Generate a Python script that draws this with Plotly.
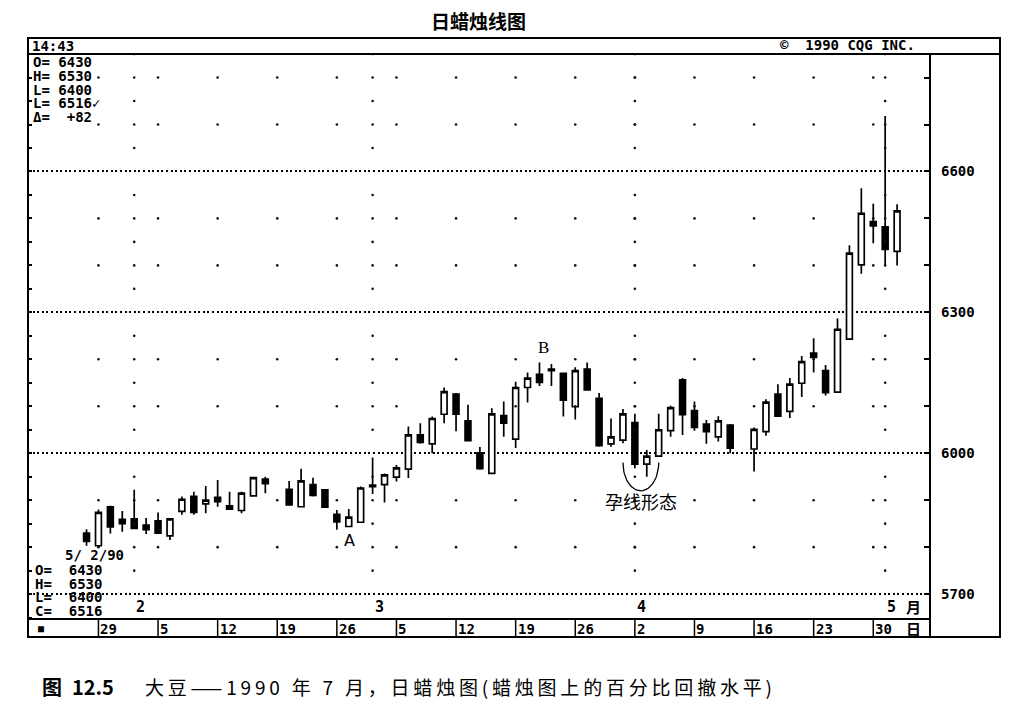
import numpy as np
import plotly.graph_objects as go

# Soybeans July 1990 daily candles
dates = ["1990-01-26",
         "1990-01-29", "1990-01-30", "1990-01-31", "1990-02-01", "1990-02-02",
         "1990-02-05", "1990-02-06", "1990-02-07", "1990-02-08", "1990-02-09",
         "1990-02-12", "1990-02-13", "1990-02-14", "1990-02-15", "1990-02-16",
         "1990-02-20", "1990-02-21", "1990-02-22", "1990-02-23",
         "1990-02-26", "1990-02-27", "1990-02-28", "1990-03-01", "1990-03-02",
         "1990-03-05", "1990-03-06", "1990-03-07", "1990-03-08", "1990-03-09",
         "1990-03-12", "1990-03-13", "1990-03-14", "1990-03-15", "1990-03-16",
         "1990-03-19", "1990-03-20", "1990-03-21", "1990-03-22", "1990-03-23",
         "1990-03-26", "1990-03-27", "1990-03-28", "1990-03-29", "1990-03-30",
         "1990-04-02", "1990-04-03", "1990-04-04", "1990-04-05", "1990-04-06",
         "1990-04-09", "1990-04-10", "1990-04-11", "1990-04-12",
         "1990-04-16", "1990-04-17", "1990-04-18", "1990-04-19", "1990-04-20",
         "1990-04-23", "1990-04-24", "1990-04-25", "1990-04-26", "1990-04-27",
         "1990-04-30", "1990-05-01", "1990-05-02"]
opens = [5830,
         5803, 5886, 5859, 5860, 5847,
         5856, 5824, 5876, 5908, 5892,
         5906, 5888, 5878, 5909, 5945,
         5923, 5886, 5933, 5922,
         5870, 5844, 5853, 5932, 5933,
         5949, 5966, 6039, 6020, 6083,
         6126, 6069, 6001, 5957, 6080,
         6030, 6140, 6168, 6179, 6170,
         6099, 6179, 6117, 6020, 6028,
         6065, 5977, 5994, 6048, 6156,
         6091, 6062, 6035, 6060,
         6009, 6046, 6126, 6089, 6149,
         6213, 6176, 6130, 6243, 6401,
         6493, 6482, 6430]
highs = [5838,
         5880, 5888, 5877, 5922, 5862,
         5874, 5862, 5908, 5918, 5930,
         5943, 5918, 5918, 5950, 5950,
         5941, 5967, 5948, 5924,
         5879, 5881, 5929, 5991, 5957,
         5975, 6057, 6064, 6078, 6140,
         6128, 6103, 6013, 6096, 6110,
         6152, 6172, 6193, 6190, 6171,
         6183, 6193, 6128, 6074, 6094,
         6084, 6007, 6084, 6101, 6160,
         6110, 6071, 6079, 6062,
         6055, 6115, 6147, 6160, 6207,
         6245, 6188, 6287, 6443, 6564,
         6531, 6718, 6530]
lows = [5803,
        5798, 5829, 5833, 5838, 5828,
        5828, 5815, 5869, 5869, 5872,
        5886, 5879, 5872, 5908, 5915,
        5888, 5886, 5908, 5884,
        5837, 5844, 5853, 5913, 5895,
        5940, 5947, 6020, 6000, 6064,
        6047, 6025, 5965, 5957, 6035,
        6011, 6108, 6143, 6143, 6078,
        6072, 6133, 6014, 6014, 6021,
        5968, 5950, 5994, 6035, 6039,
        6048, 6020, 6025, 6000,
        5961, 6037, 6079, 6075, 6120,
        6172, 6123, 6130, 6243, 6382,
        6447, 6401, 6400]
closes = [5812,
          5874, 5843, 5850, 5840, 5837,
          5830, 5860, 5902, 5874, 5900,
          5897, 5881, 5915, 5948, 5935,
          5890, 5941, 5910, 5885,
          5854, 5864, 5926, 5929, 5954,
          5969, 6039, 6023, 6074, 6131,
          6083, 6027, 5967, 6084, 6064,
          6140, 6160, 6151, 6176, 6113,
          6176, 6135, 6016, 6035, 6084,
          5977, 5994, 6050, 6097, 6082,
          6055, 6046, 6069, 6011,
          6051, 6109, 6079, 6147, 6195,
          6204, 6129, 6264, 6426, 6511,
          6484, 6434, 6516]

# bottom date strip and month markers
week_starts = ["1990-01-29", "1990-02-05", "1990-02-12", "1990-02-19", "1990-02-26",
               "1990-03-05", "1990-03-12", "1990-03-19", "1990-03-26", "1990-04-02",
               "1990-04-09", "1990-04-16", "1990-04-23", "1990-04-30"]
week_labels = ["29", "5", "12", "19", "26", "5", "12", "19", "26", "2", "9", "16", "23", "30"]
month_starts = ["1990-02-01", "1990-03-01", "1990-04-02", "1990-05-01"]
month_labels = ["2", "3", "4", "5"]
price_ticks = [5700, 6000, 6300, 6600]

# A / B markers and the harami ("孕线形态") pair
point_a = "1990-02-27"
point_b = "1990-03-21"
harami_days = ["1990-04-02", "1990-04-03"]

CQG_FONT = "DejaVu Sans Mono"
CJK_FONT = "Noto Sans CJK SC"

# x = trading-day slot, holidays stay as gaps
first_day = dates[0]
x = np.busday_count(first_day, dates)
x_week = np.busday_count(first_day, week_starts)
x_month = np.busday_count(first_day, month_starts)


def day(d):
    return int(np.busday_count(first_day, d))


# page pixel -> paper helpers (page has an 8px body margin)
OFF = 8
L, R, T, B = 28, 930, 55, 619


def px(v):
    return (v - L) / (R - L)


def py(v):
    return (B - v) / (B - T)


def spaced(s):
    # the book caption is typeset with loose letter spacing (dash kept solid)
    out = s[0]
    for a, b in zip(s, s[1:]):
        out += (b if a == b == "—" else "\u2009" + b)
    return out


fig = go.Figure()

# background dot grid (CQG style): every 100 on week columns, every 50 on month columns
dot_x, dot_y = [], []
for w in x_week:
    for lvl in range(5800, 6900, 100):
        if lvl % 300 != 0:
            dot_x.append(w)
            dot_y.append(lvl)
for m in x_month:
    for lvl in range(5700, 6900, 50):
        if lvl % 300 != 0:
            dot_x.append(m)
            dot_y.append(lvl)
fig.add_trace(go.Scatter(x=dot_x, y=dot_y, mode="markers",
                         marker=dict(size=2.6, color="#111"),
                         hoverinfo="skip", showlegend=False))

fig.add_trace(go.Candlestick(
    x=x, open=opens, high=highs, low=lows, close=closes,
    increasing=dict(fillcolor="white", line=dict(color="black", width=1.7)),
    decreasing=dict(fillcolor="black", line=dict(color="black", width=1.7)),
    whiskerwidth=0, showlegend=False,
))

# left border ticks live on an overlaying axis
fig.add_trace(go.Scatter(x=[x[0]], y=[closes[0]], yaxis="y2", mode="markers",
                         marker=dict(opacity=0), hoverinfo="skip", showlegend=False))

# arc under the harami pair
h0, h1 = day(harami_days[0]), day(harami_days[1])
cx = (h0 + h1) / 2
t = np.linspace(np.pi, 2 * np.pi, 40)
arc_top = min(lows[dates.index(harami_days[0])], lows[dates.index(harami_days[1])]) + 30
fig.add_trace(go.Scatter(x=cx + 1.5 * np.cos(t), y=arc_top + 60 * np.sin(t),
                         mode="lines", line=dict(color="black", width=1.3),
                         hoverinfo="skip", showlegend=False))

ann = []


def txt(text, xx, yy, size=14, font=CQG_FONT, anchor="left", **kw):
    ann.append(dict(text=text, x=xx, y=yy, xref=kw.pop("xref", "paper"),
                    yref=kw.pop("yref", "paper"), showarrow=False,
                    xanchor=anchor, yanchor="middle",
                    font=dict(family=font, size=size, color="black"), **kw))


txt("<b>日蜡烛线图</b>", px(478), py(21), size=19, font=CJK_FONT, anchor="center")
txt("<b>14:43</b>", px(30), py(46))
txt("<b>©  1990 CQG INC.</b>", px(917), py(45), anchor="right")

delta = closes[-1] - closes[-2]
top_info = [f"O= {opens[-1]}", f"H= {highs[-1]}", f"L= {lows[-1]}",
            f"L= {closes[-1]}✓", f"Δ=  {delta:+d}"]
for i, s in enumerate(top_info):
    txt(f"<b>{s}</b>", px(31), py(62 + 13.8 * i))

d_last = dates[-1].split("-")
txt(f"<b>{int(d_last[1])}/ {int(d_last[2])}/{d_last[0][2:]}</b>", px(63), py(555))
bot_info = [f"O=  {opens[-1]}", f"H=  {highs[-1]}", f"L=  {lows[-1]}", f"C=  {closes[-1]}"]
for i, s in enumerate(bot_info):
    txt(f"<b>{s}</b>", px(33), py(570 + 13.7 * i))

for m, lab in zip(x_month, month_labels):
    txt(f"<b>{lab}</b>", m, py(607), xref="x", xshift=0, size=15)
txt("<b>月</b>", px(913), py(606), size=15, font=CJK_FONT, anchor="center")

txt("<b>■</b>", px(36), py(628), size=10)
for w, lab in zip(x_week, week_labels):
    txt(f"<b>{lab}</b>", w, py(628.5), xref="x", xshift=0)
txt("<b>日</b>", px(913), py(628.5), size=15, font=CJK_FONT, anchor="center")

ia, ib = dates.index(point_a), dates.index(point_b)
txt("A", day(point_a), lows[ia] - 30, size=16, font="DejaVu Sans",
    anchor="center", xref="x", yref="y", xshift=1)
txt("B", day(point_b), highs[ib] + 32, size=17, font="Liberation Serif",
    anchor="center", xref="x", yref="y", xshift=4)
txt("孕线形态", cx, arc_top - 82, size=18, font=CJK_FONT,
    anchor="center", xref="x", yref="y")

txt("<b>图\u200212.5</b>", px(40), py(686), size=20, font=CJK_FONT)
txt(spaced("大豆——1990 年 7 月，日蜡烛图(蜡烛图上的百分比回撤水平)"), px(143), py(686),
    size=19, font=CJK_FONT)

shapes = [
    # outer frame, header rule, inner right border, date strip
    dict(type="rect", xref="paper", yref="paper", x0=0, x1=px(1000),
         y0=py(637), y1=py(38), line=dict(color="black", width=2)),
    dict(type="line", xref="paper", yref="paper", x0=0, x1=px(1000),
         y0=py(54), y1=py(54), line=dict(color="black", width=2)),
    dict(type="line", xref="paper", yref="paper", x0=1, x1=1,
         y0=py(637), y1=py(54), line=dict(color="black", width=2)),
    dict(type="line", xref="paper", yref="paper", x0=0, x1=1,
         y0=0, y1=0, line=dict(color="black", width=2)),
]
for w in x_week:
    shapes.append(dict(type="line", xref="x", yref="paper", x0=w, x1=w,
                       y0=py(637), y1=0, line=dict(color="black", width=1.5)))

W, H = 1009 - OFF, 707 - OFF
fig.update_layout(
    width=W, height=H,
    margin=dict(l=L - OFF, r=W - (R - OFF), t=T - OFF, b=H - (B - OFF), pad=0),
    paper_bgcolor="white", plot_bgcolor="white",
    annotations=ann, shapes=shapes,
    xaxis=dict(range=[-4.91, 70.76], visible=False, rangeslider=dict(visible=False)),
    yaxis=dict(range=[5647, 6848], side="right", tickvals=price_ticks,
               showgrid=True, gridcolor="black", griddash="2px,2.6px", gridwidth=1.5,
               zeroline=False, ticks="inside", ticklen=6, tickcolor="black", tickwidth=1.5,
               ticklabelstandoff=10,
               tickfont=dict(family=CQG_FONT, size=14, color="black", weight="bold"),
               minor=dict(dtick=100, ticks="inside", ticklen=6, tickcolor="black",
                          tickwidth=1.5, showgrid=False)),
    yaxis2=dict(overlaying="y", matches="y", side="left", showticklabels=False,
                showgrid=False, zeroline=False, ticks="inside", ticklen=4,
                tickcolor="black", tickwidth=1.5, dtick=50, tick0=0),
)

fig.write_html("out.html")
